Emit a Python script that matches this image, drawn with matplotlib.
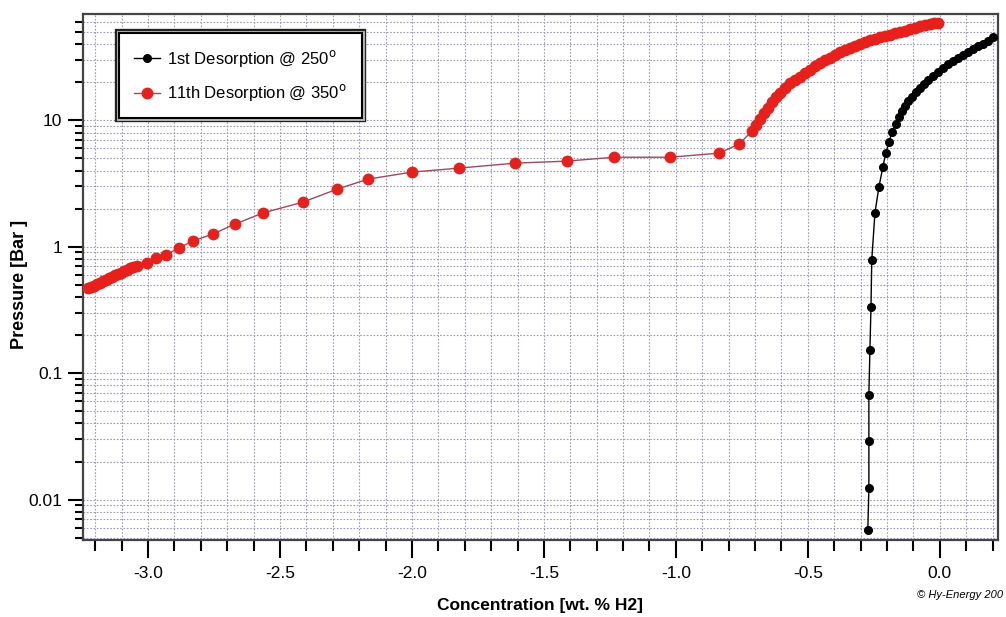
import matplotlib
matplotlib.use('Agg')
import matplotlib.pyplot as plt
import matplotlib.patheffects as pe
from matplotlib.ticker import MultipleLocator, LogLocator, FixedFormatter, FixedLocator, NullFormatter

# 1st desorption @ 250
conc_1st = [-0.273, -0.269, -0.269, -0.269, -0.265, -0.261, -0.258, -0.246, -0.231, -0.216,
            -0.205, -0.193, -0.182, -0.167, -0.155, -0.144, -0.133, -0.121, -0.106, -0.091,
            -0.076, -0.061, -0.045, -0.027, -0.008, 0.011, 0.030, 0.049, 0.068, 0.087,
            0.106, 0.125, 0.144, 0.163, 0.182, 0.201]
pres_1st = [0.0057, 0.0123, 0.0288, 0.0676, 0.153, 0.334, 0.785, 1.85, 2.96, 4.26,
            5.49, 6.70, 8.04, 9.30, 10.6, 11.8, 12.9, 14.1, 15.2, 16.6,
            17.9, 19.2, 20.7, 22.2, 23.9, 25.7, 27.7, 29.2, 30.9, 32.6,
            34.4, 36.3, 38.4, 39.8, 42.0, 45.2]

# 11th desorption @ 350
conc_11th = [-3.227, -3.216, -3.205, -3.193, -3.182, -3.171, -3.159, -3.148, -3.136, -3.125,
             -3.114, -3.102, -3.091, -3.080, -3.068, -3.057, -3.042, -3.004, -2.970, -2.932,
             -2.883, -2.830, -2.754, -2.670, -2.564, -2.413, -2.284, -2.167, -2.000, -1.822,
             -1.610, -1.413, -1.235, -1.023, -0.837, -0.761,
             -0.712, -0.697, -0.682, -0.667, -0.652, -0.636, -0.621, -0.606, -0.587, -0.568,
             -0.549, -0.530, -0.511, -0.492, -0.473, -0.455, -0.436, -0.417, -0.398, -0.379,
             -0.360, -0.341, -0.322, -0.303, -0.284, -0.265, -0.246, -0.227, -0.208, -0.189,
             -0.170, -0.152, -0.133, -0.114, -0.095, -0.076, -0.057, -0.038, -0.023, -0.008]
pres_11th = [0.472, 0.478, 0.490, 0.503, 0.517, 0.531, 0.546, 0.561, 0.577, 0.592,
             0.608, 0.625, 0.643, 0.660, 0.673, 0.686, 0.705, 0.743, 0.815, 0.859,
             0.977, 1.11, 1.26, 1.51, 1.85, 2.25, 2.85, 3.42, 3.89, 4.18,
             4.58, 4.75, 5.10, 5.10, 5.49, 6.47,
             8.19, 9.14, 10.2, 11.4, 12.4, 13.9, 15.2, 16.3, 17.9, 19.6,
             20.7, 21.8, 23.5, 24.8, 26.7, 28.2, 29.8, 30.9, 32.6, 34.4,
             35.7, 37.0, 38.4, 39.8, 41.3, 42.8, 43.6, 45.2, 46.0, 46.9,
             48.6, 49.5, 50.4, 52.3, 53.2, 55.2, 56.2, 57.3, 58.3, 59.3]

y_ticks = [0.01, 0.1, 1, 10]
y_labels = ['0.01', '0.1', '1', '10']

plt.rcParams['font.family'] = ['Liberation Sans', 'DejaVu Sans']
plt.rcParams['axes.unicode_minus'] = False

fig = plt.figure(figsize=(10.06, 6.17), dpi=100)
ax = fig.add_axes([0.0825, 0.125, 0.9095, 0.852])

ax.plot(conc_1st, pres_1st, color='black', lw=1.0, marker='o', ms=5.5,
        mfc='black', mec='black', label=r'1st Desorption @ 250$^{\rm o}$', zorder=3)
ax.plot(conc_11th, pres_11th, color='#9a4a60', lw=1.0, marker='o', ms=7.5,
        mfc='#e8201c', mec='#e8201c', label=r'11th Desorption @ 350$^{\rm o}$', zorder=4)

ax.set_yscale('log')
ax.set_xlim(-3.246, 0.22)
ax.set_ylim(0.0048, 69)

ax.xaxis.set_major_locator(MultipleLocator(0.5))
ax.xaxis.set_minor_locator(MultipleLocator(0.1))
ax.xaxis.set_major_formatter(matplotlib.ticker.FormatStrFormatter('%.1f'))
ax.yaxis.set_major_locator(FixedLocator(y_ticks))
ax.yaxis.set_major_formatter(FixedFormatter(y_labels))
ax.yaxis.set_minor_locator(LogLocator(base=10, subs=range(2, 10)))
ax.yaxis.set_minor_formatter(NullFormatter())

ax.grid(True, which='both', linestyle=(0, (1.5, 1.5)), color='#9a9ab8', lw=0.8)
ax.set_axisbelow(True)

ax.tick_params(axis='x', which='major', length=13, width=1.5, direction='out', labelsize=12.5, pad=6)
ax.tick_params(axis='x', which='minor', length=8, width=1.5, direction='out')
ax.tick_params(axis='y', which='major', length=11, width=1.5, direction='out', labelsize=12.5, pad=4)
ax.tick_params(axis='y', which='minor', length=6, width=1.5, direction='out')
for s in ax.spines.values():
    s.set_color('#444444')
    s.set_linewidth(1.6)

ax.set_xlabel('Concentration [wt. % H2]', fontsize=12.5, fontweight='bold', labelpad=12)
ax.set_ylabel('Pressure [Bar ]', fontsize=13, fontweight='bold')
ax.yaxis.set_label_coords(-0.060, 0.485)

leg = ax.legend(loc='upper left', bbox_to_anchor=(0.03, 0.98), fontsize=12,
                fancybox=False, handlelength=1.6, borderpad=0.9, labelspacing=0.8,
                handletextpad=0.4, framealpha=1)
frame = leg.get_frame()
frame.set_edgecolor('black')
frame.set_linewidth(1.0)
frame.set_path_effects([pe.Stroke(linewidth=6, foreground='#222222'),
                        pe.Stroke(linewidth=3.5, foreground='#bbbbbb'),
                        pe.Stroke(linewidth=1.5, foreground='black')])

fig.text(0.912, 0.03, '© Hy-Energy 200', fontsize=8, style='italic',
         family=['Liberation Sans', 'DejaVu Sans'])

fig.savefig('out.png', dpi=100)
